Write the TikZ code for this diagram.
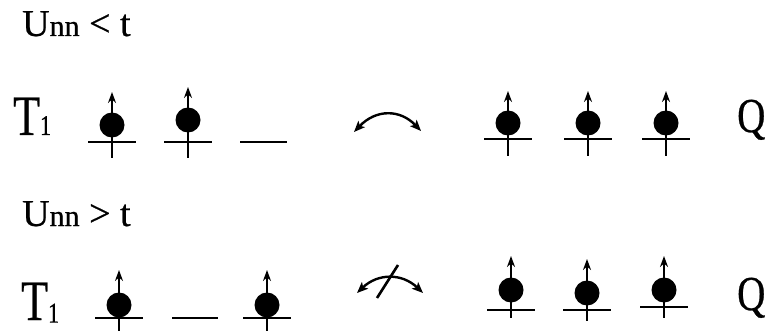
\documentclass[tikz,border=0pt]{standalone}
\usepackage{fontspec}
\setmainfont{Liberation Serif}
\newfontfamily\heavyserif{Liberation Serif}[FakeBold=0.6]
\usetikzlibrary{arrows.meta}

\begin{document}
\begin{tikzpicture}[
      x=1pt, y=-1pt,
      label/.style={inner sep=0pt, anchor=base west, font=\heavyserif},
      level/.style={line width=2.6pt},
      spin/.style={-{Stealth[length=11pt, width=8pt]}, line width=2.2pt},
      hop/.style={{Stealth[length=11pt, width=9pt, inset=2.5pt]}-{Stealth[length=11pt, width=9pt, inset=2.5pt]},
                  line width=2.4pt},
    ]
    \useasboundingbox (0,0) rectangle (770,331);
    % labels
    \node[label] (cond1) at (22,36) {\fontsize{38}{38}\selectfont U{\fontsize{30}{30}\selectfont nn} < t};
    \node[label] (cond2) at (22,226) {\fontsize{38}{38}\selectfont U{\fontsize{30}{30}\selectfont nn} > t};
    \node[label] (t1a) at (13,135) {\scalebox{1}[1.3]{\fontsize{44}{44}\selectfont T\fontsize{22}{22}\selectfont 1}};
    \node[label] (t1b) at (21,320) {\scalebox{1}[1.3]{\fontsize{44}{44}\selectfont T\raisebox{-2pt}{\fontsize{22}{22}\selectfont 1}}};
    \node[label] (qa) at (737,132) {\scalebox{1}[1.25]{\fontsize{39}{39}\selectfont Q}};
    \node[label] (qb) at (737,310) {\scalebox{1}[1.25]{\fontsize{39}{39}\selectfont Q}};
    % occupied sites: x / arrow tip / dot / level / foot
    \foreach \c/\t/\d/\l/\b in {112/92/125/142/158, 188/87/120/142/158,
                              508/91/123/139/156, 588/91/123/139/156, 666/91/123/139/156,
                              119/270/305/318/331, 267/270/305/318/331,
                              511/256/290/310/318, 587/259/293/310/321, 664/256/290/307/318} {
      \draw[level] (\c-24,\l) -- (\c+24,\l);
      \draw[level] (\c,\d) -- (\c,\b);
      \fill (\c,\d) circle (12.5pt);
      \draw[spin] (\c,\d) -- (\c,\t);
    }
    % empty sites
    \draw[level] (240,142) -- (287,142);
    \draw[level] (172,318) -- (218,318);
    % hopping
    \coordinate (hopa1) at (354,132);
    \coordinate (hopa2) at (421,131);
    \coordinate (hopb1) at (357,293);
    \coordinate (hopb2) at (423,293);
    \coordinate (cut1) at (398,265);
    \coordinate (cut2) at (377,298);
    \draw[hop] (hopa1) .. controls (376,109) and (400,109) .. (hopa2);
    \draw[hop] (hopb1) .. controls (378,273) and (402,273) .. (hopb2);
    \draw[level] (cut1) -- (cut2);
  \end{tikzpicture}
\end{document}
